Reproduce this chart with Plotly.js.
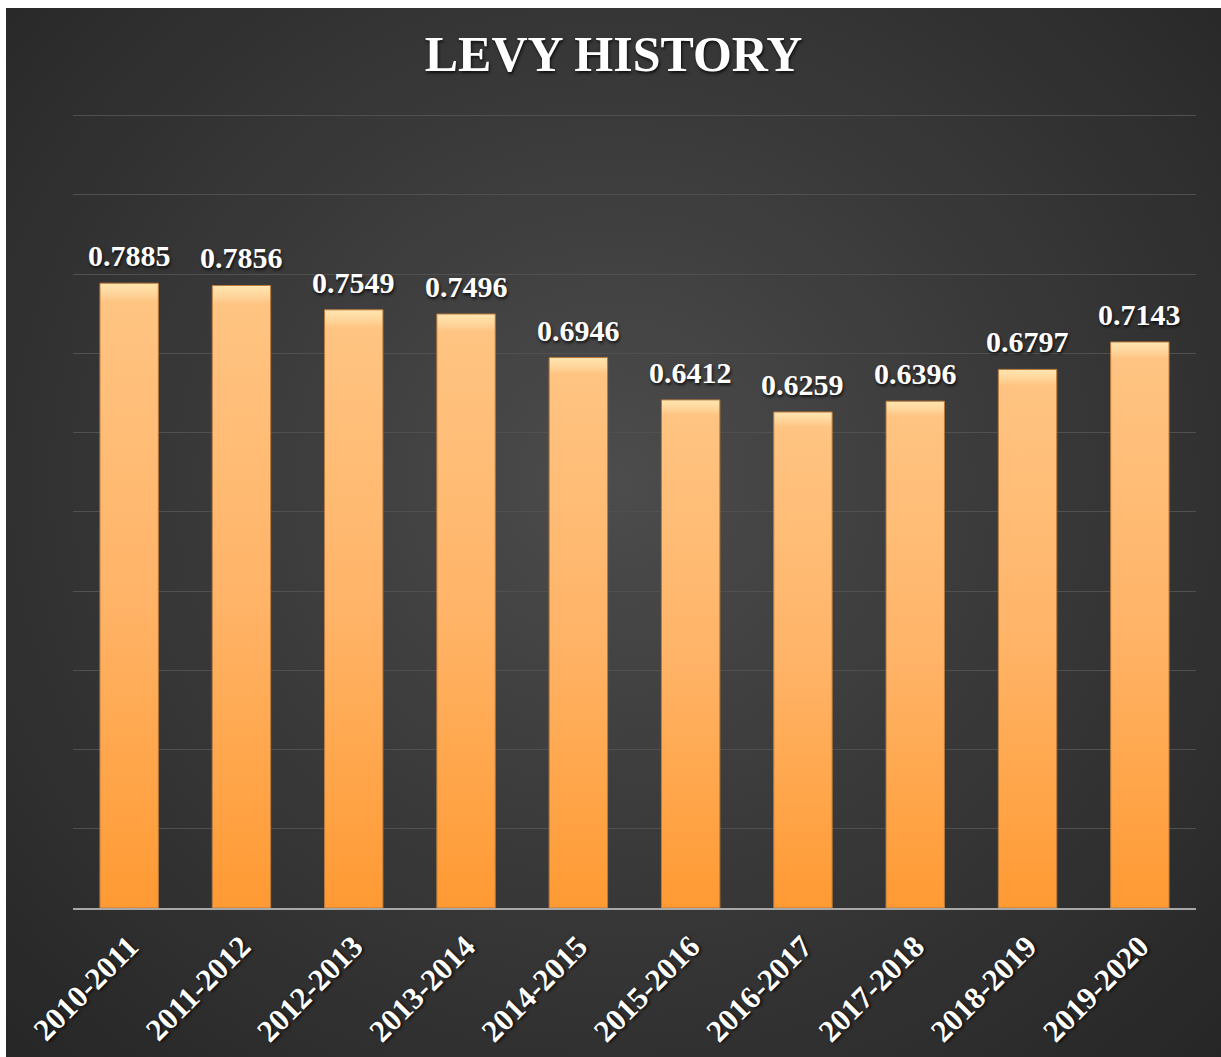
<!DOCTYPE html>
<html>
<head>
<meta charset="utf-8">
<script src="https://cdn.plot.ly/plotly-3.0.1.min.js"></script>
<style>
  html, body { margin: 0; padding: 0; background: #ffffff; }
  #chart {
    position: absolute; left: 6px; top: 8px; width: 1215px; height: 1049px;
    background: radial-gradient(ellipse at 50% 45%, #4c4c4c 0%, #3a3a3a 45%, #262626 100%);
  }
</style>
</head>
<body>
<div id="chart"></div>
<script>
const categories = ["2010-2011","2011-2012","2012-2013","2013-2014","2014-2015","2015-2016","2016-2017","2017-2018","2018-2019","2019-2020"];
const levyValues = [0.7885, 0.7856, 0.7549, 0.7496, 0.6946, 0.6412, 0.6259, 0.6396, 0.6797, 0.7143];
const chartTitle = "LEVY HISTORY";

const serif = "'Liberation Serif', 'Times New Roman', Times, serif";
const shadow = "1px 2px 3px rgba(0,0,0,0.75)";

const trace = {
  type: "bar",
  x: categories,
  y: levyValues,
  marker: { color: "#FFB466", line: { color: "#B87A3C", width: 1 } },
  hoverinfo: "x+y"
};

const annotations = categories.map((c, i) => ({
  x: c, y: levyValues[i], xref: "x", yref: "y",
  text: levyValues[i].toFixed(4),
  showarrow: false, yanchor: "bottom", yshift: 9,
  font: { family: serif, size: 30, color: "#ffffff", weight: "bold", shadow: shadow }
}));

const layout = {
  width: 1215, height: 1049,
  paper_bgcolor: "rgba(0,0,0,0)",
  plot_bgcolor: "rgba(0,0,0,0)",
  margin: { l: 67, r: 25, t: 106, b: 149 },
  bargap: 0.48,
  showlegend: false,
  title: {
    text: chartTitle,
    x: 0.5, xanchor: "center", xref: "container",
    y: 0.957, yanchor: "middle", yref: "container",
    font: { family: serif, size: 50, color: "#ffffff", weight: "bold", shadow: shadow }
  },
  xaxis: {
    type: "category",
    tickangle: -45,
    tickfont: { family: serif, size: 31, color: "#ffffff", weight: "bold", shadow: shadow },
    showgrid: false,
    showline: true, linecolor: "#a8a8a8", linewidth: 2,
    ticks: "", ticklabelstandoff: 6
  },
  yaxis: {
    range: [0, 1.002], dtick: 0.1, tick0: 0,
    showticklabels: false,
    showgrid: true, gridcolor: "#505050", gridwidth: 1,
    zeroline: false, showline: false, ticks: ""
  },
  annotations: annotations
};

Plotly.newPlot("chart", [trace], layout, { displayModeBar: false, staticPlot: true }).then(gd => {
  const svg = gd.querySelector("svg.main-svg");
  const ns = "http://www.w3.org/2000/svg";
  let defs = svg.querySelector("defs");
  if (!defs) { defs = document.createElementNS(ns, "defs"); svg.insertBefore(defs, svg.firstChild); }
  const grad = document.createElementNS(ns, "linearGradient");
  grad.setAttribute("id", "barGrad");
  grad.setAttribute("x1", "0"); grad.setAttribute("y1", "0");
  grad.setAttribute("x2", "0"); grad.setAttribute("y2", "1");
  [["0", "#FFE6B0"], ["0.018", "#FFD49A"], ["0.03", "#FFC482"], ["0.5", "#FFB468"], ["1", "#FF9A33"]].forEach(([o, c]) => {
    const s = document.createElementNS(ns, "stop");
    s.setAttribute("offset", o); s.setAttribute("stop-color", c);
    grad.appendChild(s);
  });
  defs.appendChild(grad);
  gd.querySelectorAll(".bars .point path").forEach(p => { p.style.fill = "url(#barGrad)"; });
});
</script>
</body>
</html>
